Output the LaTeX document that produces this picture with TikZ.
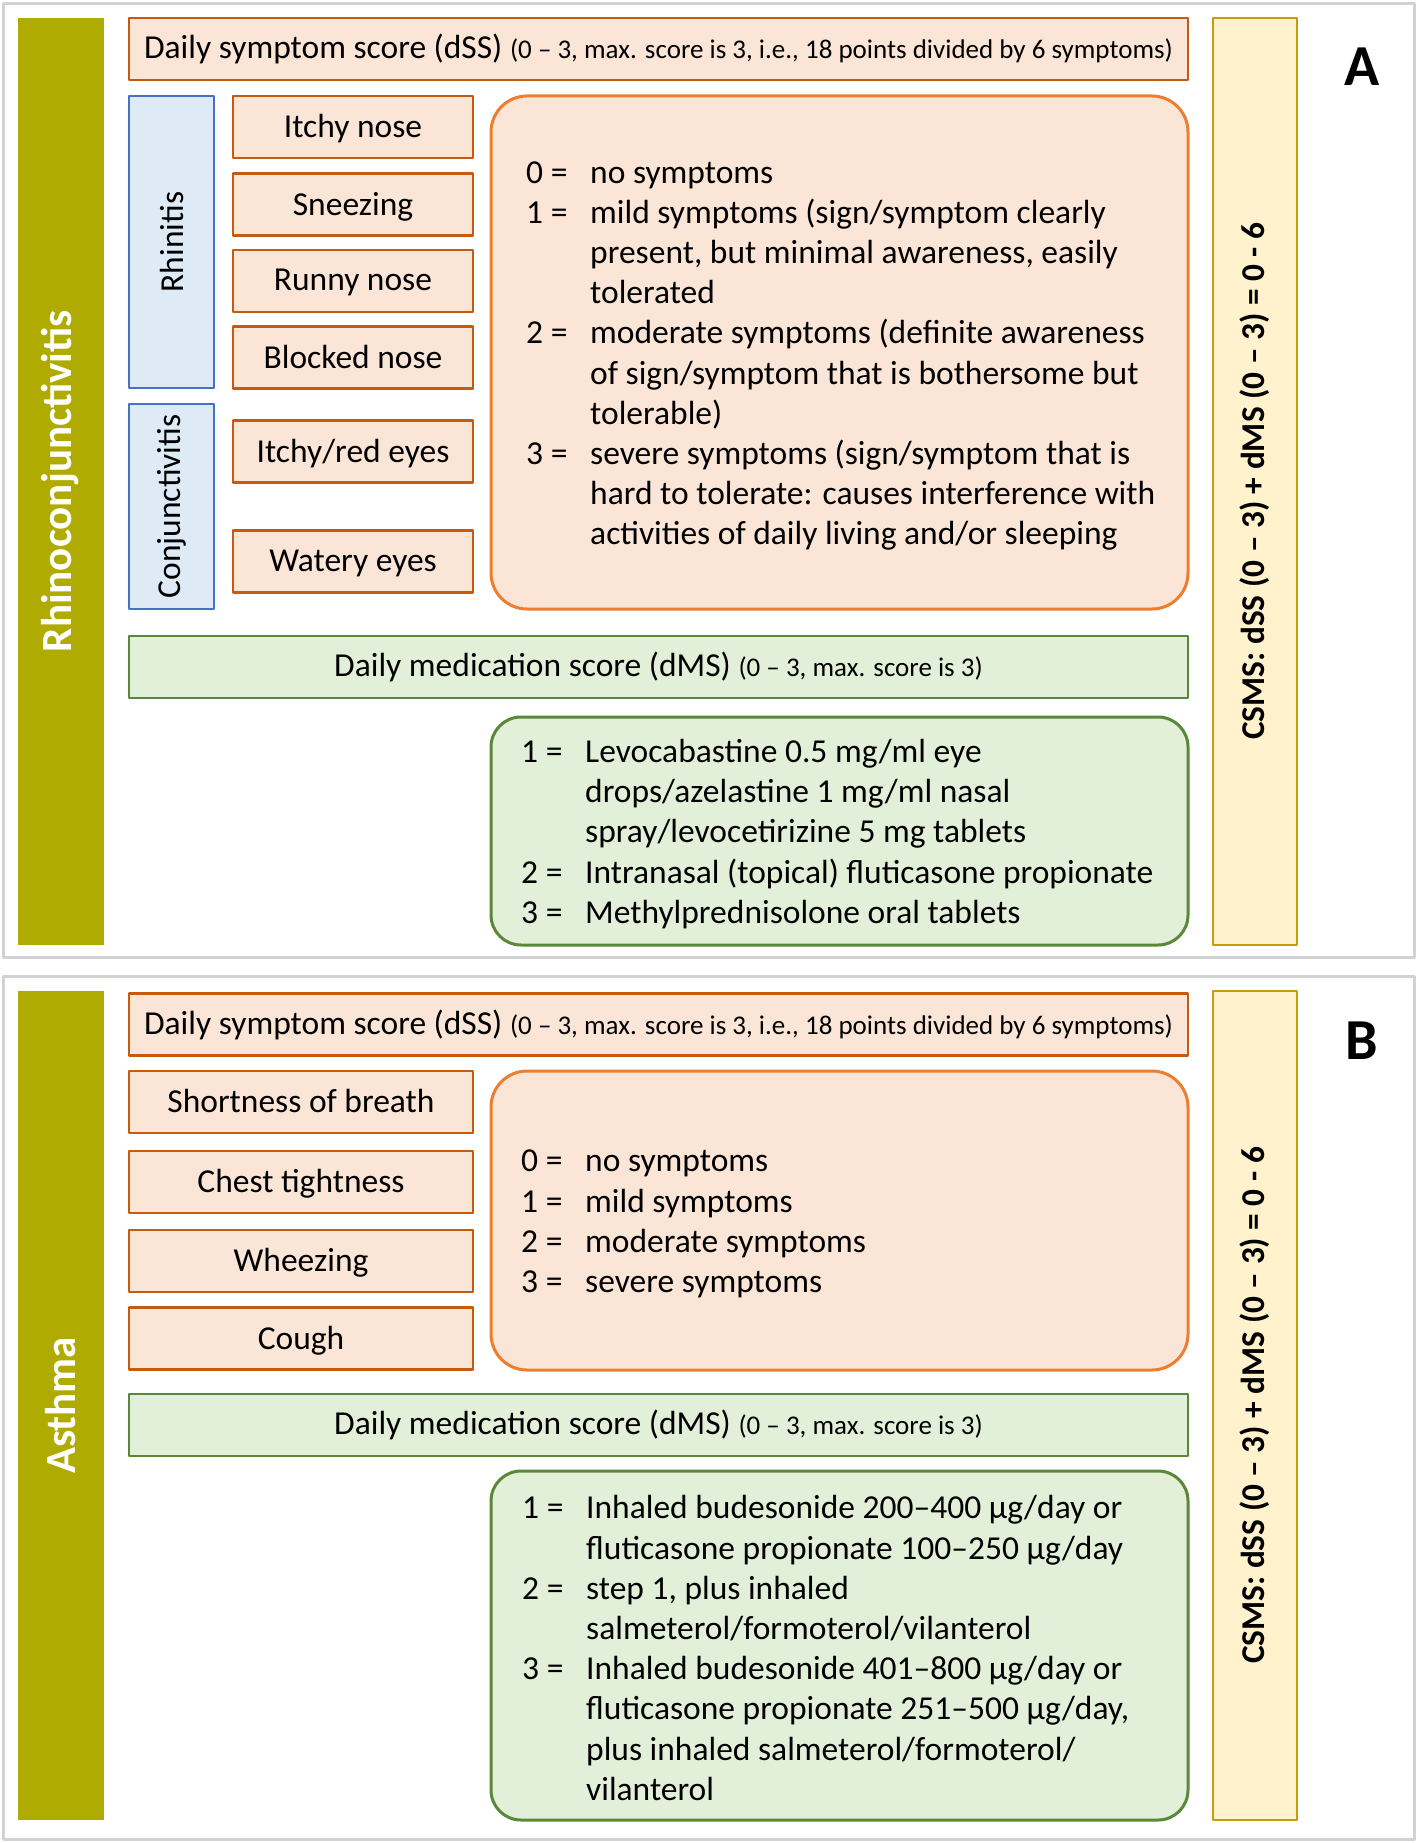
\documentclass[tikz,border=0pt]{standalone}
\usepackage{fontspec}
\setmainfont{Carlito}
\usetikzlibrary{positioning}

\definecolor{bandolive}{RGB}{175,171,0}
\definecolor{symfill}{RGB}{251,229,214}
\definecolor{symdraw}{RGB}{197,90,17}
\definecolor{scaledraw}{RGB}{237,125,49}
\definecolor{medfill}{RGB}{226,240,217}
\definecolor{meddraw}{RGB}{88,136,56}
\definecolor{grpfill}{RGB}{222,235,247}
\definecolor{grpdraw}{RGB}{68,114,196}
\definecolor{sumfill}{RGB}{255,242,204}
\definecolor{sumdraw}{RGB}{200,155,10}
\definecolor{framegray}{RGB}{210,210,210}

\newcommand{\mainsize}{\fontsize{33.5}{40.2}\selectfont}
\newcommand{\notesize}{\fontsize{27}{30}\selectfont}
\newcommand{\scoreline}[2]{\makebox[64pt][l]{#1}#2}
\newcommand{\scorecont}[1]{\hspace*{64pt}#1}

\tikzset{
  disease/.style={fill=bandolive, text=white, font=\fontsize{43}{48}\selectfont\bfseries, rotate=90, inner sep=0pt, minimum height=86pt},
  totalbar/.style={draw=sumdraw, fill=sumfill, line width=2.5pt, font=\fontsize{33.3}{40}\selectfont\bfseries, rotate=90, inner sep=0pt, minimum height=84pt},
  scorehead/.style={draw=symdraw, fill=symfill, line width=2.5pt, font=\mainsize, inner sep=0pt, minimum width=1059pt, minimum height=62pt},
  medhead/.style={draw=meddraw, fill=medfill, line width=2.5pt, font=\mainsize, inner sep=0pt, minimum width=1059pt, minimum height=62pt},
  symptom/.style={draw=symdraw, fill=symfill, line width=2.5pt, font=\mainsize, inner sep=0pt, minimum height=62pt, text depth=0.2em},
  organ/.style={draw=grpdraw, fill=grpfill, line width=2pt, font=\mainsize, rotate=90, inner sep=0pt, minimum height=85pt},
  scalebox/.style={draw=scaledraw, fill=symfill, line width=3pt, rounded corners=36pt, minimum width=697pt, inner sep=0pt},
  medbox/.style={draw=meddraw, fill=medfill, line width=3pt, rounded corners=30pt, minimum width=697pt, inner sep=0pt},
  listtext/.style={font=\mainsize, align=left, anchor=west, inner sep=0pt},
  panelframe/.style={draw=framegray, line width=3pt},
  panelletter/.style={font=\fontsize{58}{60}\selectfont\bfseries}
}

\begin{document}
\begin{tikzpicture}[x=1pt, y=-1pt, line join=round]
    \useasboundingbox (0,0) rectangle (1418,1843);

    % Panel A (rhinoconjunctivitis)
    \draw[panelframe] (3.5,3.5) rectangle (1414.5,957.5);
    \node[disease, minimum width=927pt] (rcA) at (60.5,481.3) {Rhinoconjunctivitis};
    \node[scorehead] (dssA) at (658.5,48.8) {Daily symptom score (dSS) {\notesize (0 – 3, max. score is 3, i.e., 18 points divided by 6 symptoms)}};

    \node[organ, minimum width=292pt] (rhin) at (171.5,242) {Rhinitis};
    \node[organ, minimum width=205pt] (conj) at (171.5,506.5) {Conjunctivitis};

    % Symptoms (A)
    \foreach \y/\n/\txt in {127/1/Itchy nose, 204.5/2/Sneezing, 281/3/Runny nose, 357.5/4/Blocked nose, 451.5/5/{Itchy/red eyes}, 561.5/6/Watery eyes} {
        \node[symptom, minimum width=240pt] (symA\n) at (353,\y) {\txt};
    }

    \node[scalebox, minimum height=513pt] (sevA) at (839.5,352.5) {};
    \node[listtext] (sevtxtA) at (526,356) {%
        \scoreline{0 =}{no symptoms}\\
        \scoreline{1 =}{mild symptoms (sign/symptom clearly}\\
        \scorecont{present, but minimal awareness, easily}\\
        \scorecont{tolerated}\\
        \scoreline{2 =}{moderate symptoms (definite awareness}\\
        \scorecont{of sign/symptom that is bothersome but}\\
        \scorecont{tolerable)}\\
        \scoreline{3 =}{severe symptoms (sign/symptom that is}\\
        \scorecont{hard to tolerate: causes interference with}\\
        \scorecont{activities of daily living and/or sleeping}};

    \node[medhead] (dmsA) at (658.5,667) {Daily medication score (dMS) {\notesize (0 – 3, max. score is 3)}};
    \node[medbox, minimum height=228pt] (medA) at (839.5,831) {};
    \node[listtext] (medtxtA) at (521,834) {%
        \scoreline{1 =}{Levocabastine 0.5 mg/ml eye}\\
        \scorecont{drops/azelastine 1 mg/ml nasal}\\
        \scorecont{spray/levocetirizine 5 mg tablets}\\
        \scoreline{2 =}{Intranasal (topical) fluticasone propionate}\\
        \scoreline{3 =}{Methylprednisolone oral tablets}};

    \node[totalbar, minimum width=927pt] (csmsA) at (1255,481.3) {CSMS: dSS (0 – 3) + dMS (0 – 3) = 0 - 6};
    \node[panelletter] (letA) at (1362,67) {A};

    % Panel B (asthma)
    \draw[panelframe] (3.5,976) rectangle (1414.5,1839.5);
    \node[disease, minimum width=829pt] (asB) at (60.5,1405.5) {Asthma};
    \node[scorehead] (dssB) at (658.5,1024.5) {Daily symptom score (dSS) {\notesize (0 – 3, max. score is 3, i.e., 18 points divided by 6 symptoms)}};

    % Symptoms (B)
    \foreach \y/\n/\txt in {1102/1/Shortness of breath, 1182/2/Chest tightness, 1261/3/Wheezing, 1338.5/4/Cough} {
        \node[symptom, minimum width=344pt] (symB\n) at (301,\y) {\txt};
    }

    \node[scalebox, minimum height=299pt] (sevB) at (839.5,1220.5) {};
    \node[listtext] (sevtxtB) at (521,1224) {%
        \scoreline{0 =}{no symptoms}\\
        \scoreline{1 =}{mild symptoms}\\
        \scoreline{2 =}{moderate symptoms}\\
        \scoreline{3 =}{severe symptoms}};

    \node[medhead] (dmsB) at (658.5,1425) {Daily medication score (dMS) {\notesize (0 – 3, max. score is 3)}};
    \node[medbox, minimum height=349pt] (medB) at (839.5,1645.5) {};
    \node[listtext] (medtxtB) at (522,1648) {%
        \scoreline{1 =}{Inhaled budesonide 200–400 µg/day or}\\
        \scorecont{fluticasone propionate 100–250 µg/day}\\
        \scoreline{2 =}{step 1, plus inhaled}\\
        \scorecont{salmeterol/formoterol/vilanterol}\\
        \scoreline{3 =}{Inhaled budesonide 401–800 µg/day or}\\
        \scorecont{fluticasone propionate 251–500 µg/day,}\\
        \scorecont{plus inhaled salmeterol/formoterol/}\\
        \scorecont{vilanterol}};

    \node[totalbar, minimum width=829pt] (csmsB) at (1255,1405.5) {CSMS: dSS (0 – 3) + dMS (0 – 3) = 0 - 6};
    \node[panelletter] (letB) at (1362,1041) {B};
\end{tikzpicture}
\end{document}
